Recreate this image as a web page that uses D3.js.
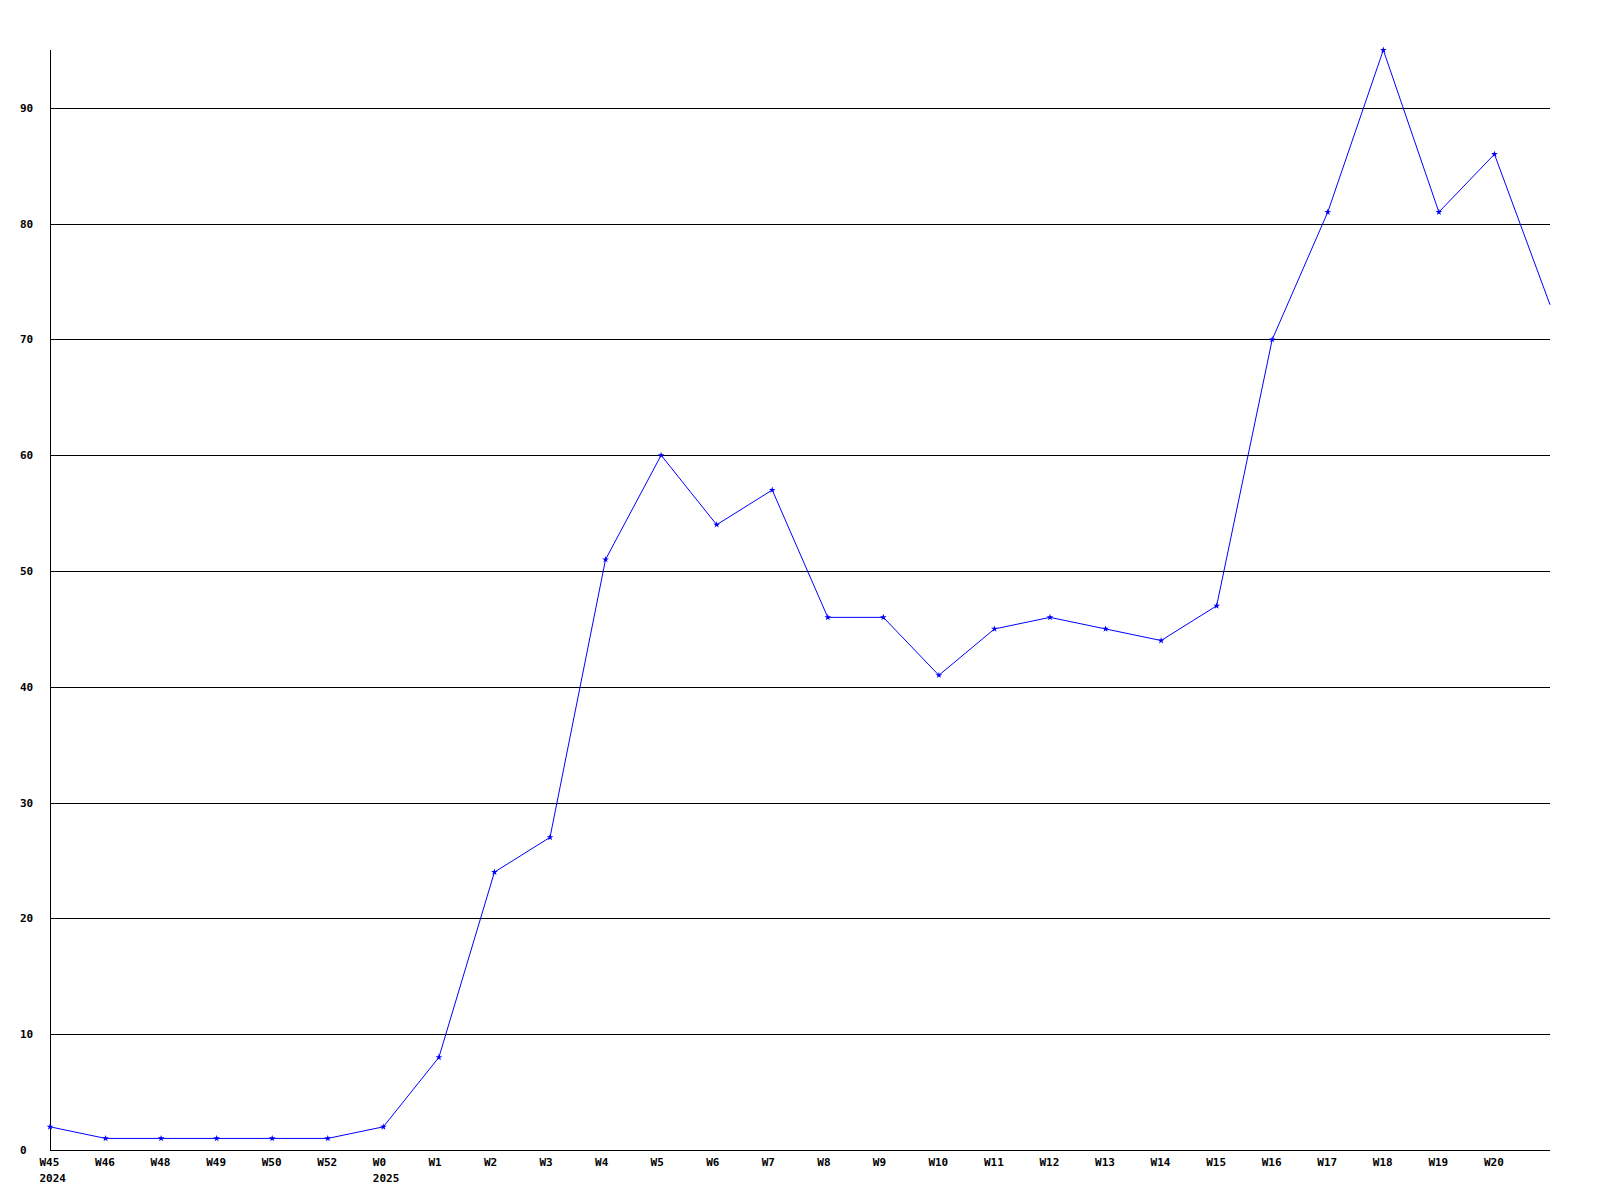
<!DOCTYPE html>
<html>
<head>
<meta charset="utf-8">
<script src="https://cdn.jsdelivr.net/npm/d3@7"></script>
<style>
  html, body { margin: 0; padding: 0; background: #fff; }
  svg text { font-family: "DejaVu Sans Mono", "Liberation Mono", monospace; font-weight: bold; font-size: 11px; fill: #000; }
</style>
</head>
<body>
<svg id="chart" width="1600" height="1200"></svg>
<script>
const weekLabels = ["W45","W46","W48","W49","W50","W52","W0","W1","W2","W3","W4","W5","W6","W7","W8","W9","W10","W11","W12","W13","W14","W15","W16","W17","W18","W19","W20",""];
const yearLabels = ["2024","","","","","","2025","","","","","","","","","","","","","","","","","","","","",""];
const values = [2,1,1,1,1,1,2,8,24,27,51,60,54,57,46,46,41,45,46,45,44,47,70,81,95,81,86,73];
const yTicks = [0,10,20,30,40,50,60,70,80,90];

(function () {
const svg = d3.select("#chart");
const mL = 50, mR = 1550, mT = 50, mB = 1150;

const x = d3.scaleLinear().domain([0, values.length - 1]).range([mL, mR]);
const y = d3.scaleLinear().domain([0, 95]).range([mB, mT]);

// gridlines
svg.append("g").selectAll("line").data(yTicks.filter(d => d > 0)).join("line")
  .attr("x1", mL).attr("x2", mR)
  .attr("y1", d => Math.round(y(d)) + 0.5).attr("y2", d => Math.round(y(d)) + 0.5)
  .attr("stroke", "#000").attr("stroke-width", 1).attr("shape-rendering", "crispEdges");

// y labels
svg.append("g").selectAll("text").data(yTicks).join("text")
  .attr("x", 20).attr("y", d => Math.round(y(d)) + 4)
  .text(d => d);

// axes
svg.append("line").attr("x1", mL + 0.5).attr("x2", mL + 0.5).attr("y1", mT).attr("y2", mB + 0.5)
  .attr("stroke", "#000").attr("shape-rendering", "crispEdges");
svg.append("line").attr("x1", mL).attr("x2", mR).attr("y1", mB + 0.5).attr("y2", mB + 0.5)
  .attr("stroke", "#000").attr("shape-rendering", "crispEdges");

// x labels
const xl = svg.append("g");
xl.selectAll("text.wk").data(weekLabels).join("text").attr("class", "wk")
  .attr("x", (d, i) => x(i) - 10.5).attr("y", 1166).text(d => d);
xl.selectAll("text.yr").data(yearLabels).join("text").attr("class", "yr")
  .attr("x", (d, i) => x(i) - 10.5).attr("y", 1182).text(d => d);

// line
const line = d3.line().x((d, i) => x(i)).y(d => y(d));
svg.append("path").datum(values).attr("d", line)
  .attr("fill", "none").attr("stroke", "#0000ff").attr("stroke-width", 1);

// markers
const sym = d3.symbol().type(d3.symbolStar).size(14);
svg.append("g").selectAll("path").data(values.slice(0, values.length - 1)).join("path")
  .attr("transform", (d, i) => `translate(${x(i)},${y(d)})`)
  .attr("d", sym).attr("fill", "#0000ff");
})();
</script>
</body>
</html>
